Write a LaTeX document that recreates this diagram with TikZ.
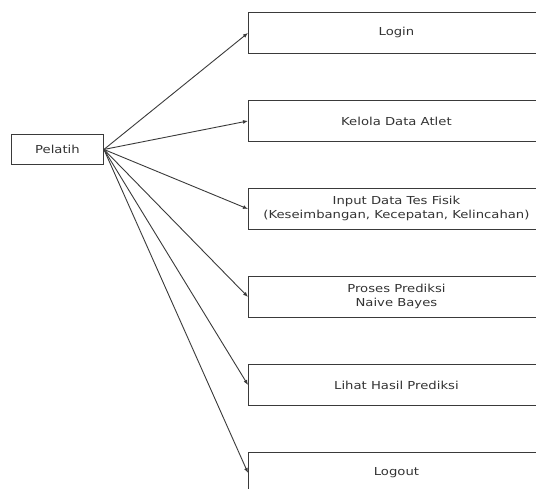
\documentclass[tikz,border=0pt]{standalone}
\usepackage{fontspec}
\setmainfont{DejaVu Sans}[FakeStretch=1.2]
\usetikzlibrary{arrows.meta}
\definecolor{ln}{HTML}{3A3A3A}
\definecolor{tx}{HTML}{333333}
\begin{document}
\begin{tikzpicture}[x=1pt,y=-1pt,
  ucbox/.style={draw=ln, line width=0.9pt, minimum width=296pt, minimum height=41pt, inner sep=0pt, anchor=north west, align=center, font=\fontsize{11}{14}\selectfont, text=tx},
  actbox/.style={draw=ln, line width=0.9pt, minimum width=92pt, minimum height=30pt, inner sep=0pt, anchor=north west, font=\fontsize{11}{12}\selectfont, text=tx},
  conn/.style={draw=ln, line width=0.9pt, -{Latex[length=5pt,width=4pt]}}]
\useasboundingbox (0,0) rectangle (536,488);
\node[actbox] (p) at (11,134) {Pelatih};
\node[ucbox] (u1) at (248,12) {Login};
\node[ucbox] (u2) at (248,100) {Kelola Data Atlet};
\node[ucbox] (u3) at (248,188) {Input Data Tes Fisik\\(Keseimbangan, Kecepatan, Kelincahan)};
\node[ucbox] (u4) at (248,276) {Proses Prediksi\\Naive Bayes};
\node[ucbox] (u5) at (248,364) {Lihat Hasil Prediksi};
\node[ucbox] (u6) at (248,452) {Logout};
\foreach \i in {1,...,6} \draw[conn] (p.east) -- (u\i.west);
\end{tikzpicture}
\end{document}
